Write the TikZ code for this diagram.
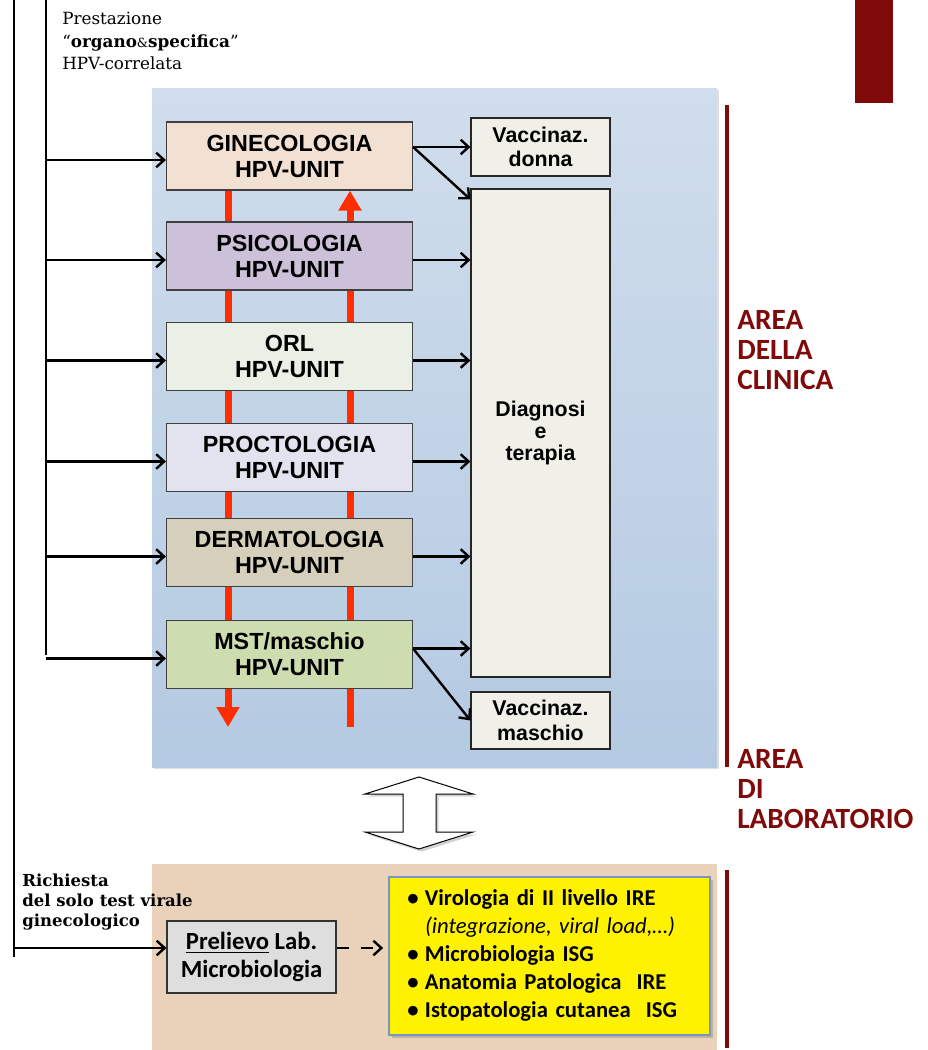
\documentclass[tikz,border=0pt]{standalone}
\usepackage{fontspec}
\usetikzlibrary{arrows.meta,shadows,calc}
\newfontfamily\hvfont{Liberation Sans}
\newfontfamily\calfont{Carlito}
\newfontfamily\serfont{DejaVu Serif}
\definecolor{darkred}{RGB}{128,10,10}
\definecolor{bluetop}{RGB}{208,221,236}
\definecolor{bluebot}{RGB}{180,202,226}
\definecolor{labfill}{RGB}{234,210,186}
\definecolor{cGine}{RGB}{242,225,211}
\definecolor{cPsi}{RGB}{205,193,218}
\definecolor{cOrl}{RGB}{234,240,229}
\definecolor{cProc}{RGB}{227,227,239}
\definecolor{cDerm}{RGB}{214,207,187}
\definecolor{cMst}{RGB}{205,221,176}
\definecolor{cRight}{RGB}{240,240,232}
\definecolor{redarr}{RGB}{255,45,0}
\definecolor{ybord}{RGB}{120,150,190}
\begin{document}
\begin{tikzpicture}[x=0.75pt,y=-0.75pt,
  unitbox/.style={draw=black!75, line width=0.9pt, minimum width=184.5pt, minimum height=51pt,
    inner sep=0pt, align=center, font=\hvfont\bfseries\fontsize{17.5}{19.5}\selectfont},
  rightbox/.style={draw=black!85, line width=0.9pt, fill=cRight, minimum width=104.25pt,
    inner sep=0pt, align=center, font=\hvfont\bfseries\fontsize{16}{18.5}\selectfont},
  bus/.style={line width=2.2pt, black},
  conn/.style={line width=1.8pt, black, -{Straight Barb[length=6pt,width=11pt]}},
  redflow/.style={line width=5.25pt, redarr, -{Triangle[width=16.5pt,length=15pt]}},
  arealabel/.style={anchor=west, align=left, inner sep=0pt, text=darkred,
    font=\calfont\bfseries\fontsize{22}{22.5}\selectfont},
  redbar/.style={line width=3pt, darkred}
]
\useasboundingbox (0,0) rectangle (928,1050);

% backgrounds
\fill[bluebot, drop shadow={opacity=0.25, shadow xshift=1.5pt, shadow yshift=-1.5pt}, top color=bluetop, bottom color=bluebot]
  (152,88) rectangle (717,767);
\fill[labfill] (152,864) rectangle (717,1050);
\fill[darkred] (855,0) rectangle (893,103);
\draw[redbar] (727,105) -- (727,767);
\draw[redbar] (727,870) -- (727,1048);

% top text
\node[anchor=west, align=left, inner sep=0pt, font=\serfont\fontsize{12.6}{17}\selectfont] (prest) at (62,41)
  {Prestazione\\“\textbf{organo}{\fontsize{9.5}{17}\selectfont\&}\textbf{specifica}”\\HPV-correlata};

% coordinates for red flow arrows
\coordinate (rl) at (228,727);
\coordinate (rr) at (350,727);

% unit boxes
\node[unitbox, fill=cGine] (g)  at (289.5,156)   {GINECOLOGIA\\HPV-UNIT};
\draw[redflow] (g.south -| rl) -- (rl);
\draw[redflow] (rr) -- (g.south -| rr);
\node[unitbox, fill=cPsi]  (p)  at (289.5,256)   {PSICOLOGIA\\HPV-UNIT};
\node[unitbox, fill=cOrl]  (o)  at (289.5,356.5) {ORL\\HPV-UNIT};
\node[unitbox, fill=cProc] (pr) at (289.5,457.5) {PROCTOLOGIA\\HPV-UNIT};
\node[unitbox, fill=cDerm] (d)  at (289.5,552.5) {DERMATOLOGIA\\HPV-UNIT};
\node[unitbox, fill=cMst]  (m)  at (289.5,654.5) {MST/maschio\\HPV-UNIT};

% right column
\node[rightbox, minimum height=43.5pt] (vd) at (540.5,147) {Vaccinaz.\\donna};
\node[rightbox, minimum height=366pt, font=\hvfont\bfseries\fontsize{16}{16.5}\selectfont] (dt) at (540.5,433) {Diagnosi\\e\\terapia};
\node[rightbox, minimum height=42.75pt] (vm) at (540.5,720.5) {Vaccinaz.\\maschio};

% bus lines
\coordinate (busA) at (14,0);
\coordinate (busB) at (46,0);
\draw[bus] (busB) -- (busB |- m.west);
\foreach \b in {g,p,o,pr,d,m}{
  \draw[conn] ([yshift=-3pt]busB |- \b.west) -- ([yshift=-3pt]\b.west);
}

% arrows to right column
\draw[conn] (g.east |- vd.west) -- (vd.west);
\draw[conn] (g.east |- vd.west) -- ([yshift=-8.25pt]dt.north west);
\foreach \b in {p,o,pr,d}{
  \draw[conn] ([yshift=-3pt]\b.east) -- ([yshift=-3pt]\b.east -| dt.west);
}
\draw[conn] ([yshift=4.5pt]m.east) -- ([yshift=4.5pt]m.east -| dt.west);
\draw[conn] ([yshift=4.5pt]m.east) -- (vm.west);

% area labels
\node[arealabel] (clin) at (737,350) {AREA\\DELLA\\CLINICA};
\node[arealabel] (lab) at (737,789) {AREA\\DI\\LABORATORIO};

% double arrow
\draw[fill=white, line width=0.75pt, drop shadow={opacity=0.35, shadow xshift=2pt, shadow yshift=-2pt}]
  (419,777) -- (473,794) -- (436,794) -- (436,832) -- (473,832) -- (419,849)
  -- (365,832) -- (403,832) -- (403,794) -- (365,794) -- cycle;

% lab area
\node[draw=black!80, line width=0.9pt, fill=black!13, minimum width=126.75pt, minimum height=54pt,
  inner sep=0pt, align=center, font=\calfont\bfseries\fontsize{18.5}{20.5}\selectfont] (pre) at (251.5,957)
  {\underline{Prelievo} Lab.\\Microbiologia};

\node[draw=ybord, line width=0.8pt, fill=yellow, minimum height=118.5pt, text width=222.75pt,
  inner xsep=9pt, inner ysep=0pt, align=left,
  drop shadow={opacity=0.4, shadow xshift=2pt, shadow yshift=-2pt},
  font=\calfont\bfseries\fontsize{17}{21}\selectfont] (yel) at (549.5,956)
  {\renewcommand{\arraystretch}{1}%
   \begin{tabular}{@{}p{18pt}@{}l@{}}
   \hfil\textbullet\hfil & Virologia di II livello IRE\\
   & \textmd{\textit{(integrazione, viral load,…)}}\\
   \hfil\textbullet\hfil & Microbiologia ISG\\
   \hfil\textbullet\hfil & Anatomia Patologica\ \ IRE\\
   \hfil\textbullet\hfil & Istopatologia cutanea\ \ ISG
   \end{tabular}};

\node[anchor=west, align=left, inner sep=0pt, font=\serfont\bfseries\fontsize{12.4}{15}\selectfont] (rich) at (22,902)
  {Richiesta\\del solo test virale\\ginecologico};

\draw[bus] (busA) -- (busA |- pre.west);
\draw[conn] ([yshift=6.75pt]busA |- pre.west) -- ([yshift=6.75pt]pre.west);
\draw[line width=1.8pt, dash pattern=on 9pt off 9pt, -{Straight Barb[length=6pt,width=11pt]}, shorten >=4pt]
  ([yshift=6.75pt]pre.east) -- ([yshift=6.75pt]pre.east -| yel.west);
\end{tikzpicture}
\end{document}
